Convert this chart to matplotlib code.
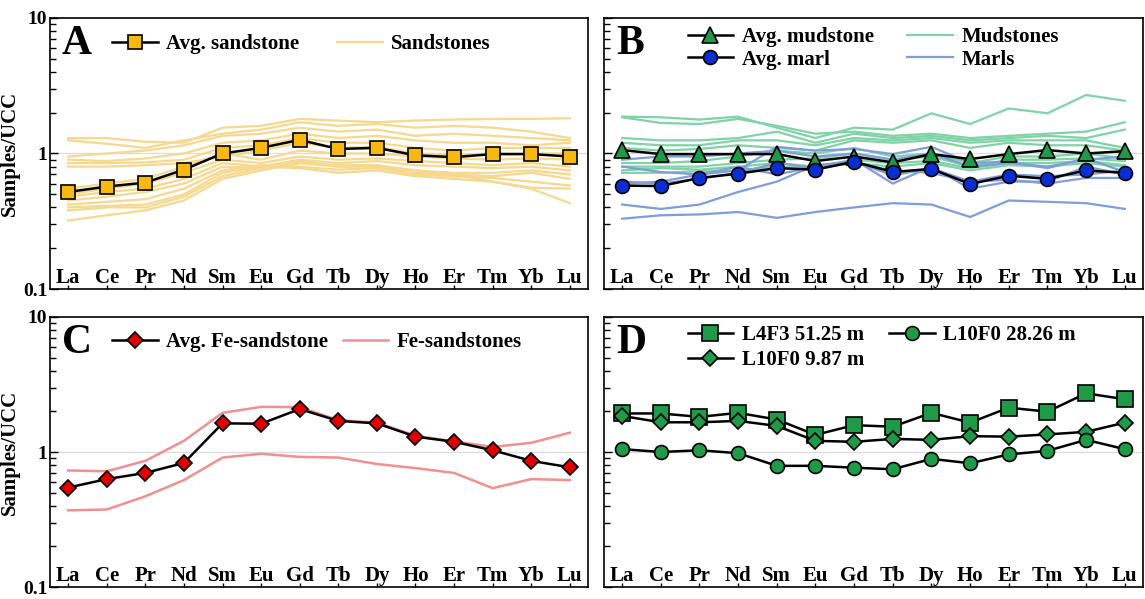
import matplotlib
matplotlib.use("Agg")
import matplotlib.pyplot as plt
from matplotlib.ticker import LogLocator, NullFormatter, FixedLocator

plt.rcParams['font.family'] = ['Liberation Serif', 'DejaVu Serif']
plt.rcParams['font.weight'] = 'bold'

elements = ['La', 'Ce', 'Pr', 'Nd', 'Sm', 'Eu', 'Gd', 'Tb', 'Dy', 'Ho', 'Er', 'Tm', 'Yb', 'Lu']

# Panel A
avg_sandstone = [0.52, 0.57, 0.61, 0.76, 1.00, 1.10, 1.26, 1.08, 1.10, 0.97, 0.94, 0.99, 0.99, 0.95]
sandstones = [
    [1.30, 1.30, 1.22, 1.20, 1.55, 1.60, 1.80, 1.75, 1.70, 1.75, 1.78, 1.80, 1.80, 1.82],
    [1.25, 1.18, 1.10, 1.25, 1.40, 1.50, 1.70, 1.60, 1.65, 1.55, 1.60, 1.55, 1.45, 1.30],
    [0.95, 1.00, 1.05, 1.15, 1.35, 1.40, 1.55, 1.45, 1.50, 1.35, 1.40, 1.35, 1.30, 1.25],
    [0.90, 0.88, 0.92, 1.00, 1.20, 1.25, 1.40, 1.30, 1.35, 1.25, 1.20, 1.20, 1.15, 1.20],
    [0.85, 0.85, 0.86, 0.90, 1.10, 1.15, 1.30, 1.20, 1.20, 1.10, 1.05, 1.10, 1.10, 1.10],
    [0.80, 0.80, 0.82, 0.85, 0.95, 1.05, 1.20, 1.10, 1.12, 1.00, 0.98, 1.00, 1.00, 1.00],
    [0.55, 0.60, 0.65, 0.80, 1.00, 0.90, 1.05, 1.00, 1.00, 0.95, 0.92, 0.90, 0.92, 0.90],
    [0.50, 0.55, 0.60, 0.72, 0.90, 0.85, 0.95, 0.90, 0.92, 0.88, 0.85, 0.82, 0.85, 0.80],
    [0.48, 0.52, 0.55, 0.65, 0.85, 0.80, 0.90, 0.85, 0.88, 0.82, 0.80, 0.78, 0.80, 0.75],
    [0.45, 0.48, 0.52, 0.60, 0.80, 0.78, 0.85, 0.80, 0.80, 0.75, 0.72, 0.72, 0.75, 0.70],
    [0.42, 0.44, 0.46, 0.55, 0.75, 0.82, 0.80, 0.76, 0.78, 0.70, 0.68, 0.66, 0.62, 0.58],
    [0.40, 0.41, 0.42, 0.50, 0.72, 0.80, 0.78, 0.72, 0.75, 0.68, 0.65, 0.62, 0.56, 0.55],
    [0.38, 0.40, 0.40, 0.48, 0.68, 0.78, 0.88, 0.80, 0.80, 0.72, 0.70, 0.68, 0.72, 0.65],
    [0.32, 0.35, 0.38, 0.45, 0.65, 0.75, 0.85, 0.82, 0.82, 0.75, 0.70, 0.62, 0.55, 0.43],
]

# Panel B
avg_mudstone = [1.06, 0.99, 0.99, 0.99, 0.99, 0.88, 0.95, 0.86, 0.99, 0.91, 0.99, 1.06, 1.00, 1.04]
avg_marl = [0.58, 0.575, 0.66, 0.71, 0.78, 0.76, 0.87, 0.73, 0.77, 0.595, 0.685, 0.65, 0.75, 0.72]
mudstones = [
    [1.87, 1.85, 1.78, 1.87, 1.55, 1.30, 1.55, 1.50, 1.98, 1.65, 2.15, 1.98, 2.70, 2.45],
    [1.85, 1.68, 1.65, 1.80, 1.60, 1.40, 1.45, 1.35, 1.40, 1.30, 1.35, 1.40, 1.45, 1.70],
    [1.30, 1.25, 1.25, 1.30, 1.45, 1.20, 1.40, 1.30, 1.35, 1.25, 1.30, 1.35, 1.30, 1.50],
    [1.20, 1.15, 1.15, 1.25, 1.25, 1.15, 1.30, 1.25, 1.30, 1.20, 1.25, 1.25, 1.25, 1.10],
    [1.10, 1.05, 1.08, 1.15, 1.10, 1.05, 1.25, 1.20, 1.25, 1.10, 1.20, 1.15, 1.15, 1.05],
    [0.85, 0.85, 0.88, 0.95, 1.05, 1.00, 1.10, 0.95, 1.00, 0.85, 0.95, 0.95, 1.00, 0.92],
    [0.80, 0.80, 0.80, 0.85, 0.90, 0.92, 1.00, 0.90, 0.95, 0.80, 0.90, 0.90, 0.92, 0.88],
    [0.75, 0.78, 0.76, 0.80, 0.85, 0.80, 0.90, 0.85, 0.88, 0.78, 0.85, 0.85, 0.88, 0.82],
    [0.72, 0.72, 0.74, 0.75, 0.80, 0.78, 0.85, 0.80, 0.85, 0.75, 0.82, 0.80, 0.85, 0.80],
]
marls = [
    [0.33, 0.35, 0.355, 0.37, 0.335, 0.37, 0.40, 0.43, 0.42, 0.34, 0.45, 0.44, 0.43, 0.39],
    [0.42, 0.39, 0.42, 0.52, 0.62, 0.82, 0.87, 0.69, 0.78, 0.62, 0.64, 0.60, 0.66, 0.66],
    [0.80, 0.73, 0.70, 0.75, 1.12, 1.05, 1.08, 0.99, 1.12, 0.85, 0.87, 0.78, 0.92, 0.73],
    [0.62, 0.60, 0.65, 0.72, 0.85, 0.78, 0.90, 0.60, 0.80, 0.55, 0.62, 0.62, 0.80, 0.70],
    [0.60, 0.62, 0.70, 0.80, 0.70, 0.80, 0.85, 0.75, 0.72, 0.62, 0.70, 0.68, 0.70, 0.75],
    [0.90, 0.95, 0.95, 1.00, 1.05, 0.95, 1.00, 0.90, 1.00, 0.80, 0.85, 0.80, 0.90, 0.95],
]

# Panel C
avg_fe_sandstone = [0.545, 0.63, 0.70, 0.83, 1.63, 1.62, 2.08, 1.70, 1.63, 1.30, 1.19, 1.03, 0.86, 0.77]
fe_sandstones = [
    [0.73, 0.72, 0.86, 1.21, 1.95, 2.16, 2.15, 1.72, 1.65, 1.32, 1.20, 1.09, 1.17, 1.39],
    [0.37, 0.375, 0.47, 0.62, 0.91, 0.97, 0.92, 0.91, 0.815, 0.76, 0.70, 0.54, 0.63, 0.62],
]

# Panel D
l4f3_5125 = [1.93, 1.93, 1.82, 1.95, 1.74, 1.34, 1.58, 1.54, 1.95, 1.65, 2.13, 1.99, 2.72, 2.46]
l10f0_987 = [1.85, 1.66, 1.66, 1.70, 1.56, 1.21, 1.19, 1.25, 1.23, 1.31, 1.30, 1.35, 1.41, 1.65]
l10f0_2826 = [1.05, 1.00, 1.03, 0.98, 0.79, 0.79, 0.765, 0.745, 0.89, 0.825, 0.96, 1.02, 1.23, 1.05]

x = list(range(len(elements)))

fig = plt.figure(figsize=(11.45, 5.99), dpi=100)
axA = fig.add_axes([0.0437, 0.5175, 0.4698, 0.4525])
axB = fig.add_axes([0.5275, 0.5175, 0.4707, 0.4525])
axC = fig.add_axes([0.0437, 0.0200, 0.4698, 0.4508])
axD = fig.add_axes([0.5275, 0.0200, 0.4707, 0.4508])


def style_axis(ax, letter, show_ylabels):
    ax.set_yscale('log')
    ax.set_ylim(0.1, 10)
    ax.set_xlim(-0.47, 13.47)
    ax.axhline(1, color='#dcdcdc', lw=1, zorder=0)
    ax.xaxis.set_major_locator(FixedLocator(x))
    ax.set_xticklabels(elements, fontsize=15, fontweight='bold')
    ax.tick_params(axis='x', direction='in', length=3, width=1, pad=-15, top=False)
    ax.yaxis.set_major_locator(FixedLocator([0.1, 1, 10]))
    ax.yaxis.set_minor_locator(LogLocator(base=10, subs=range(2, 10)))
    ax.yaxis.set_minor_formatter(NullFormatter())
    ax.tick_params(axis='y', which='major', direction='in', length=6, width=1, pad=2, right=False)
    ax.tick_params(axis='y', which='minor', direction='in', length=4, width=1, right=False)
    if show_ylabels:
        ax.set_yticklabels(['0.1', '1', '10'], fontsize=14, fontweight='bold')
        ax.set_ylabel('Samples/UCC', fontsize=15, fontweight='bold', labelpad=2)
    else:
        ax.set_yticklabels([])
    for s in ax.spines.values():
        s.set_linewidth(1.2)
    ax.text(0.022, 0.868, letter, transform=ax.transAxes, fontsize=30,
            fontweight='bold', va='baseline', ha='left')


# A
for i, vals in enumerate(sandstones):
    ax_line = axA.plot(x, vals, color='#F6D88E', lw=1.6, zorder=1)
    if i == 0:
        h_sand = ax_line[0]
h_avg_sand, = axA.plot(x, avg_sandstone, color='black', lw=1.8, marker='s', ms=10,
                       mfc='#F7B90F', mec='black', mew=1.2, zorder=3)
style_axis(axA, 'A', True)
axA.legend([h_avg_sand, h_sand], ['Avg. sandstone', 'Sandstones'], ncol=2, frameon=False,
           loc='upper left', bbox_to_anchor=(0.115, 0.94), borderpad=0, borderaxespad=0,
           handlelength=2.2, handletextpad=0.4, columnspacing=1.8, prop={'size': 15, 'weight': 'bold'})

# B
for i, vals in enumerate(mudstones):
    ln = axB.plot(x, vals, color='#7FD3A6', lw=1.6, zorder=1)
    if i == 0:
        h_mud = ln[0]
for i, vals in enumerate(marls):
    ln = axB.plot(x, vals, color='#7F9CDB', lw=1.6, zorder=1)
    if i == 0:
        h_marl = ln[0]
h_avg_mud, = axB.plot(x, avg_mudstone, color='black', lw=1.8, marker='^', ms=11,
                      mfc='#1E9A48', mec='black', mew=1.2, zorder=3)
h_avg_marl, = axB.plot(x, avg_marl, color='black', lw=1.8, marker='o', ms=10,
                       mfc='#0B2ED0', mec='black', mew=1.2, zorder=4)
style_axis(axB, 'B', False)
axB.legend([h_avg_mud, h_avg_marl, h_mud, h_marl],
           ['Avg. mudstone', 'Avg. marl', 'Mudstones', 'Marls'], ncol=2, frameon=False,
           loc='upper left', bbox_to_anchor=(0.155, 0.966), borderpad=0, borderaxespad=0,
           handlelength=2.2, handletextpad=0.4, columnspacing=1.6, labelspacing=0.12,
           prop={'size': 15, 'weight': 'bold'})

# C
for i, vals in enumerate(fe_sandstones):
    ln = axC.plot(x, vals, color='#F09090', lw=1.8, zorder=1)
    if i == 0:
        h_fe = ln[0]
h_avg_fe, = axC.plot(x, avg_fe_sandstone, color='black', lw=1.8, marker='D', ms=8.5,
                     mfc='#E00000', mec='black', mew=1.2, zorder=3)
style_axis(axC, 'C', True)
axC.legend([h_avg_fe, h_fe], ['Avg. Fe-sandstone', 'Fe-sandstones'], ncol=2, frameon=False,
           loc='upper left', bbox_to_anchor=(0.115, 0.945), borderpad=0, borderaxespad=0,
           handlelength=2.2, handletextpad=0.4, columnspacing=0.7, prop={'size': 15, 'weight': 'bold'})

# D
h_d1, = axD.plot(x, l4f3_5125, color='black', lw=1.8, marker='s', ms=11,
                 mfc='#1E9A48', mec='black', mew=1.2, zorder=3)
h_d2, = axD.plot(x, l10f0_987, color='black', lw=1.8, marker='D', ms=8,
                 mfc='#1E9A48', mec='black', mew=1.2, zorder=3)
h_d3, = axD.plot(x, l10f0_2826, color='black', lw=1.8, marker='o', ms=10,
                 mfc='#1E9A48', mec='black', mew=1.2, zorder=3)
style_axis(axD, 'D', False)
axD.legend([h_d1, h_d2, h_d3], ['L4F3 51.25 m', 'L10F0 9.87 m', 'L10F0 28.26 m'], ncol=2,
           frameon=False, loc='upper left', bbox_to_anchor=(0.155, 0.97), borderpad=0,
           borderaxespad=0, handlelength=2.2, handletextpad=0.4, columnspacing=1.2,
           labelspacing=0.25, prop={'size': 15, 'weight': 'bold'})

fig.savefig('out.png', dpi=100)
